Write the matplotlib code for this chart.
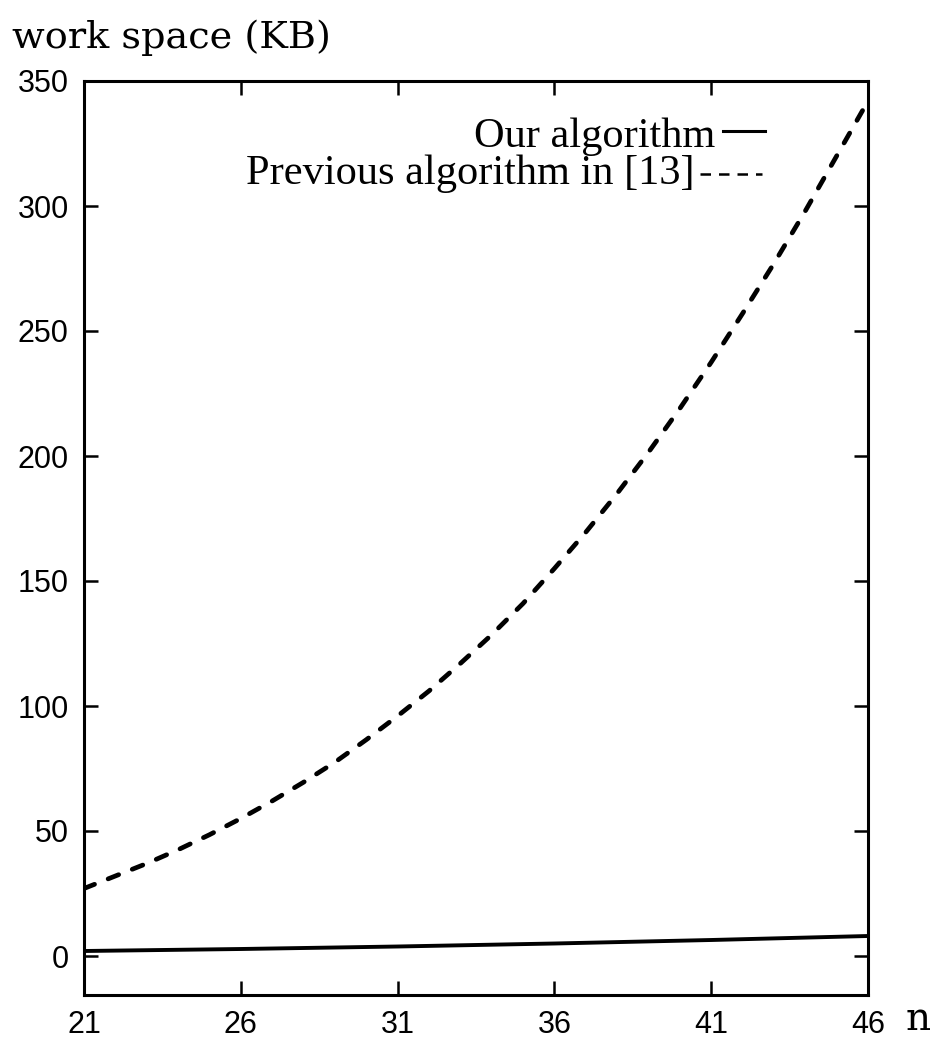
import matplotlib
matplotlib.use("Agg")
import matplotlib.pyplot as plt
from matplotlib.lines import Line2D

# ---- data ----
n_prev = [21, 22, 23, 24, 25, 26, 27, 28, 29, 30, 31, 32, 33,
          34, 35, 36, 37, 38, 39, 40, 41, 42, 43, 44, 45, 46]
ws_prev = [27.0, 32.0, 37.0, 42.5, 48.5, 55.0, 62.0, 69.5, 77.5, 86.5, 96.0,
           106.0, 117.0, 128.5, 141.0, 155.0, 169.5, 185.0, 201.5, 219.0,
           237.5, 257.0, 277.0, 298.0, 320.0, 342.0]
n_ours = [21, 26, 31, 36, 41, 46]
ws_ours = [2.0, 2.8, 3.8, 5.0, 6.4, 8.0]

x_ticks = [21, 26, 31, 36, 41, 46]
y_ticks = [0, 50, 100, 150, 200, 250, 300, 350]
label_ours = "Our algorithm"
label_prev = "Previous algorithm in [13]"
y_title = "work space (KB)"
x_title = "n"

W, H = 939, 1039
fig = plt.figure(figsize=(W / 100, H / 100), dpi=100)
ax = fig.add_axes([84 / W, 1 - 995 / H, (868 - 84) / W, (995 - 81) / H])

ax.plot(n_ours, ws_ours, color="black", lw=2.8, solid_capstyle="butt")
ax.plot(n_prev, ws_prev, color="black", lw=3.4, dashes=(2.4, 3.1),
        dash_capstyle="round")

ax.set_xlim(21, 46)
ax.set_ylim(-15.6, 350)
ax.set_xticks(x_ticks)
ax.set_yticks(y_ticks)
ax.set_xticklabels([str(t) for t in x_ticks], fontfamily="Liberation Sans",
                   fontsize=22)
ax.set_yticklabels([str(t) for t in y_ticks], fontfamily="Liberation Sans",
                   fontsize=22)
ax.tick_params(direction="in", length=10, width=1.8, top=True, right=True)
ax.tick_params(axis="y", pad=11)
ax.tick_params(axis="x", pad=11)
for s in ax.spines.values():
    s.set_linewidth(2.2)

# legend: right-aligned text followed by a line sample
def fx(px):
    return (px - 84) / 784

def fy(py):
    return (995 - py) / 914

legend_font = {"family": "Liberation Serif", "size": 30.5}
ax.text(fx(715), fy(147), label_ours, transform=ax.transAxes, ha="right",
        va="baseline", **legend_font)
ax.text(fx(694), fy(184), label_prev, transform=ax.transAxes, ha="right",
        va="baseline", **legend_font)
ax.add_line(Line2D([fx(723), fx(765)], [fy(131), fy(131)],
                   transform=ax.transAxes, color="black", lw=2.2))
ax.add_line(Line2D([fx(700), fx(762)], [fy(174), fy(174)],
                   transform=ax.transAxes, color="black", lw=1.8,
                   dashes=(4.2, 3.2)))

fig.text(12 / W, 1 - 48 / H, y_title, ha="left", va="baseline",
         fontfamily="DejaVu Serif", fontsize=27.5)
ax.set_xlabel(x_title, fontfamily="DejaVu Serif", fontsize=28,
              va="baseline", ha="center")
ax.xaxis.set_label_coords(fx(918), fy(1030))

fig.savefig("out.png", dpi=100)
